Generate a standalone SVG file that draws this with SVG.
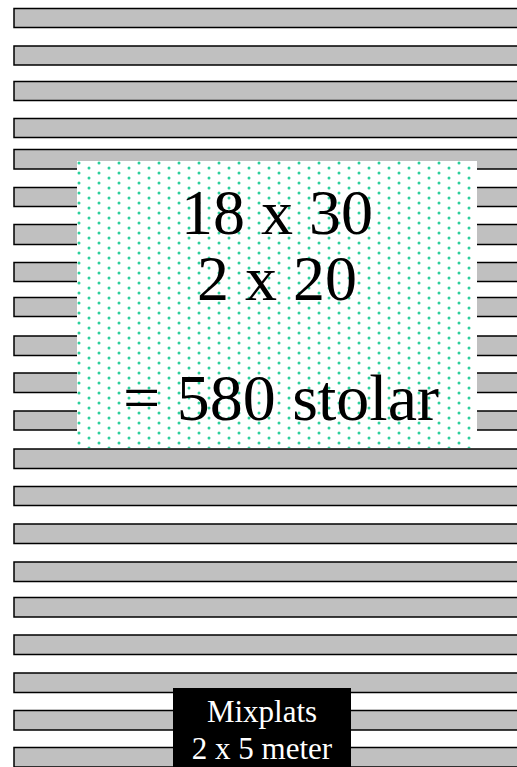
<svg xmlns="http://www.w3.org/2000/svg" width="517" height="767" viewBox="0 0 517 767">
<defs>
<style>
.bar{fill:#c0c0c0;stroke:#000;stroke-width:1.5}
.big{font-family:"Liberation Serif","Times New Roman",serif;font-size:64px;fill:#000;text-anchor:middle}
.small{font-family:"Liberation Serif","Times New Roman",serif;font-size:31px;fill:#fff;text-anchor:middle}
</style>
<pattern id="dots" x="77" y="161" width="20" height="10" patternUnits="userSpaceOnUse">
<circle cx="2" cy="2" r="1.5" fill="#2ccf9c"/>
<circle cx="12" cy="7" r="1.5" fill="#2ccf9c"/>
</pattern>
</defs>
<rect width="517" height="767" fill="#fff"/>
<g id="rows">
<rect class="bar" x="14" y="8.5" width="510" height="19"/>
<rect class="bar" x="14" y="46" width="510" height="19"/>
<rect class="bar" x="14" y="81.5" width="510" height="19"/>
<rect class="bar" x="14" y="118.5" width="510" height="19"/>
<rect class="bar" x="14" y="149.5" width="510" height="19.5"/>
<rect class="bar" x="14" y="187.5" width="510" height="19"/>
<rect class="bar" x="14" y="224.5" width="510" height="20"/>
<rect class="bar" x="14" y="262.5" width="510" height="19"/>
<rect class="bar" x="14" y="297.5" width="510" height="19"/>
<rect class="bar" x="14" y="336" width="510" height="19.5"/>
<rect class="bar" x="14" y="373" width="510" height="19.5"/>
<rect class="bar" x="14" y="411" width="510" height="19"/>
<rect class="bar" x="14" y="449" width="510" height="19.5"/>
<rect class="bar" x="14" y="486.5" width="510" height="19"/>
<rect class="bar" x="14" y="524" width="510" height="19.5"/>
<rect class="bar" x="14" y="562" width="510" height="19.5"/>
<rect class="bar" x="14" y="597.5" width="510" height="19.5"/>
<rect class="bar" x="14" y="635" width="510" height="19.5"/>
<rect class="bar" x="14" y="673" width="510" height="19.5"/>
<rect class="bar" x="14" y="710.5" width="510" height="19.5"/>
<rect class="bar" x="14" y="747.5" width="510" height="19.5"/>
</g>
<g id="seating">
<rect x="77" y="161" width="400" height="287" fill="#fff"/>
<rect x="77" y="161" width="400" height="287" fill="url(#dots)"/>
<text class="big" x="277" y="234">18 x 30</text>
<text class="big" x="277" y="300">2 x 20</text>
<text class="big" x="281" y="420" style="font-size:66px">= 580 stolar</text>
</g>
<g id="mixplats">
<rect x="173" y="688" width="178" height="79" fill="#000"/>
<text class="small" x="262" y="722">Mixplats</text>
<text class="small" x="262" y="759">2 x 5 meter</text>
</g>
</svg>
